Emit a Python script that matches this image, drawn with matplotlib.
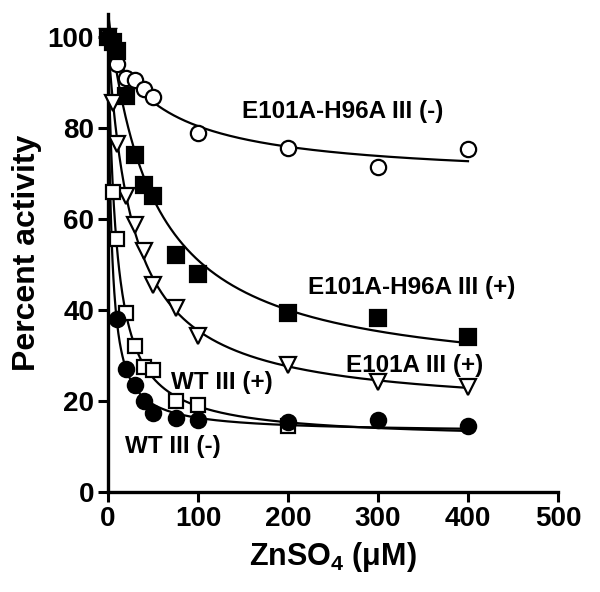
import numpy as np
import matplotlib
matplotlib.use("Agg")
import matplotlib.pyplot as plt

plt.rcParams['font.family'] = ['Liberation Sans', 'DejaVu Sans']
plt.rcParams['font.weight'] = 'bold'
plt.rcParams['mathtext.fontset'] = 'custom'
plt.rcParams['mathtext.bf'] = 'Liberation Sans:bold'
plt.rcParams['mathtext.rm'] = 'Liberation Sans:bold'
plt.rcParams['mathtext.default'] = 'bf'

# ZnSO4 concentration (uM) and percent activity
x_h96_minus = [0, 10, 20, 30, 40, 50, 100, 200, 300, 400]
y_h96_minus = [100, 94, 91, 90.5, 88.5, 86.7, 79, 75.5, 71.5, 75.3]

x_h96_plus = [0, 5, 10, 20, 30, 40, 50, 75, 100, 200, 300, 400]
y_h96_plus = [100, 99, 97, 87, 74, 67.5, 65, 52, 48, 39.3, 38.2, 34]

x_e101_plus = [0, 5, 10, 20, 30, 40, 50, 75, 100, 200, 300, 400]
y_e101_plus = [100, 85.5, 76.5, 65, 58.7, 53, 45.5, 40.4, 34.3, 28, 24.2, 23]

x_wt_plus = [0, 5, 10, 20, 30, 40, 50, 75, 100, 200]
y_wt_plus = [100, 66, 55.5, 39.3, 32, 27.5, 26.8, 20, 19.2, 14.5]

x_wt_minus = [0, 10, 20, 30, 40, 50, 75, 100, 200, 300, 400]
y_wt_minus = [100, 38, 27, 23.5, 20, 17.4, 16.3, 15.8, 15.4, 15.8, 14.4]

labels = ["E101A-H96A III (-)", "E101A-H96A III (+)", "E101A III (+)",
          "WT III (+)", "WT III (-)"]
xticks = [0, 100, 200, 300, 400, 500]
yticks = [0, 20, 40, 60, 80, 100]


def fit_curve(x, y):
    x = np.asarray(x, float)
    y = np.asarray(y, float)
    best = None
    for K in np.logspace(-1, 3, 2000):
        f = x / (K + x)
        A = np.column_stack([np.ones_like(x), -f])
        coef, *_ = np.linalg.lstsq(A, y, rcond=None)
        r = np.sum((A @ coef - y) ** 2)
        if best is None or r < best[0]:
            best = (r, K, coef)
    _, K, (y0, a) = best
    xs = np.linspace(0, 400, 800)
    return xs, y0 - a * xs / (K + xs)


fig = plt.figure(figsize=(6.0, 5.92), dpi=100)
ax = fig.add_axes([0.18, 0.169, 0.75, 0.807])

series = [
    (x_h96_minus, y_h96_minus, 'o', 'white', 11),
    (x_h96_plus, y_h96_plus, 's', 'black', 11),
    (x_e101_plus, y_e101_plus, 'v', 'white', 11),
    (x_wt_plus, y_wt_plus, 's', 'white', 10),
    (x_wt_minus, y_wt_minus, 'o', 'black', 11),
]
for xs_, ys_, m, fc, ms in series:
    cx, cy = fit_curve(xs_, ys_)
    ax.plot(cx, cy, color='black', lw=1.6, zorder=2)
for xs_, ys_, m, fc, ms in series:
    ax.plot(xs_, ys_, linestyle='none', marker=m, markersize=ms,
            markerfacecolor=fc, markeredgecolor='black', markeredgewidth=1.6,
            zorder=3, clip_on=False)

ax.set_xlim(0, 500)
ax.set_ylim(0, 105)
ax.set_xticks(xticks)
ax.set_yticks(yticks)
ax.tick_params(axis='both', direction='out', length=7, width=2.2,
               labelsize=20, pad=3)
for lab in ax.get_xticklabels() + ax.get_yticklabels():
    lab.set_fontweight('bold')
for s in ['top', 'right']:
    ax.spines[s].set_visible(False)
for s in ['left', 'bottom']:
    ax.spines[s].set_linewidth(2.4)

ax.set_xlabel('ZnSO$_4$ (\u03bcM)', fontsize=22, fontweight='bold', labelpad=6)
ax.set_ylabel('Percent activity', fontsize=23, fontweight='bold', labelpad=4)

label_pos = [(261, 83.7), (337, 45), (341, 27.9), (127, 24), (72, 9.9)]
for txt, (lx, ly) in zip(labels, label_pos):
    ax.text(lx, ly, txt, fontsize=17.5, fontweight='bold', ha='center', va='center')

fig.savefig('out.png', dpi=100)
